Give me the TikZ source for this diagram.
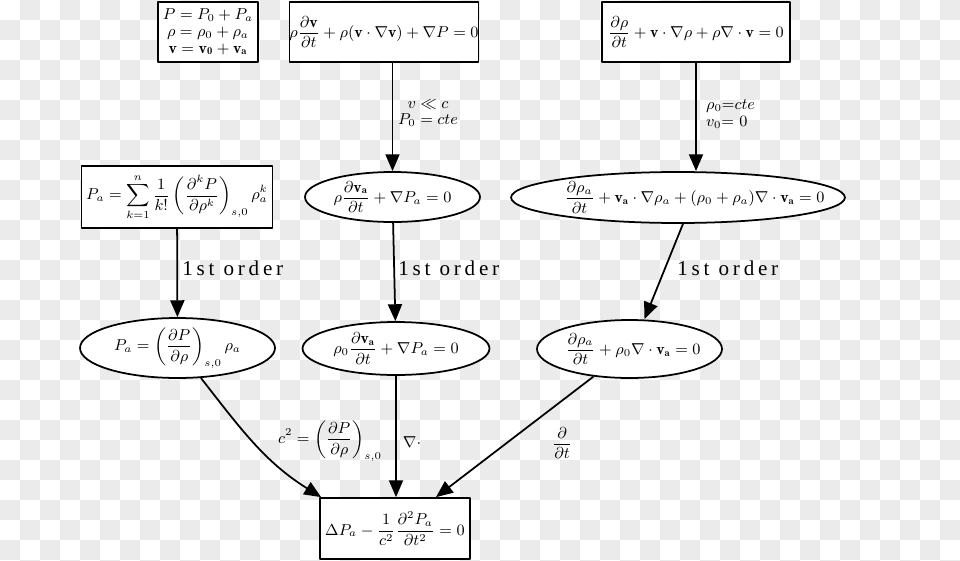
\documentclass[tikz,border=0pt]{standalone}
\usepackage{amsmath}
\usepackage{fontspec}
\newfontfamily\orderfont[LetterSpace=18]{Liberation Serif}
\usetikzlibrary{arrows.meta,shapes.geometric}
\definecolor{checkgray}{HTML}{EBEBEB}
\newcommand{\nowidth}[1]{\makebox[0pt]{$\displaystyle #1$}}
\begin{document}
\begin{tikzpicture}[x=0.02cm, y=-0.02cm, >={Triangle[length=9.6pt,width=8pt]}, line join=round,
  every node/.style={font=\fontsize{9}{10.5}\selectfont},
  eqbox/.style={draw, fill=white, line width=1pt, inner sep=0pt, align=center},
  eqell/.style={draw, ellipse, fill=white, line width=1pt, inner sep=0pt},
  arr/.style={->, line width=1pt},
  order/.style={font=\orderfont\fontsize{12}{14}\selectfont, anchor=west, inner sep=0pt}]
\useasboundingbox (0,0) rectangle (960,561);
% checkered background
\begin{scope}
\clip (0,0) rectangle (960,561);
\foreach \i in {0,...,47}{
  \foreach \j in {0,...,28}{
    \pgfmathtruncatemacro\k{mod(\i+\j,2)}
    \ifnum\k=1 \fill[checkgray] (\i*20,\j*20) rectangle ++(20,20); \fi
  }
}
\end{scope}
% top row
\node[eqbox, minimum width=2cm, minimum height=1.2cm] (defs) at (208,32)
  {$P=P_0+P_a$\\[-1pt] $\rho=\rho_0+\rho_a$\\[-1pt] $\mathbf{v}=\mathbf{v_0}+\mathbf{v_a}$};
\node[eqbox, minimum width=3.76cm, minimum height=1.2cm] (euler) at (384,32)
  {$\displaystyle\rho\frac{\partial\mathbf{v}}{\partial t}+\rho(\mathbf{v}\cdot\nabla\mathbf{v})+\nabla P=0$};
\node[eqbox, minimum width=3.76cm, minimum height=1.2cm] (cont) at (696,32)
  {$\displaystyle\frac{\partial\rho}{\partial t}+\mathbf{v}\cdot\nabla\rho+\rho\nabla\cdot\mathbf{v}=0$};
% middle row
\node[eqbox, minimum width=3.82cm, minimum height=1.24cm] (state) at (177,197)
  {$\displaystyle P_a=\sum_{k=1}^{n}\frac{1}{k!}\left(\frac{\partial^k P}{\partial\rho^k}\right)_{s,0}\rho_a^k$};
\node[eqell, minimum width=3.5cm, minimum height=1cm] (eulerlin) at (392.5,197)
  {\nowidth{\rho\frac{\partial\mathbf{v_a}}{\partial t}+\nabla P_a=0}};
\node[eqell, minimum width=6.68cm, minimum height=1.02cm] (contlin) at (678,197.5)
  {\makebox[0pt]{\hspace{0.66cm}$\displaystyle\frac{\partial\rho_a}{\partial t}+\mathbf{v_a}\cdot\nabla\rho_a+(\rho_0+\rho_a)\nabla\cdot\mathbf{v_a}=0$}};
% first order row
\node[eqell, minimum width=3.9cm, minimum height=1.2cm] (statelin) at (177.5,348)
  {\nowidth{P_a=\left(\frac{\partial P}{\partial\rho}\right)_{s,0}\rho_a}};
\node[eqell, minimum width=3.74cm, minimum height=1.06cm] (eulerord) at (396,348.5)
  {\nowidth{\rho_0\frac{\partial\mathbf{v_a}}{\partial t}+\nabla P_a=0}};
\node[eqell, minimum width=3.7cm, minimum height=1.16cm] (contord) at (629.5,349)
  {\makebox[0pt]{\hspace{0.14cm}$\displaystyle\frac{\partial\rho_a}{\partial t}+\rho_0\nabla\cdot\mathbf{v_a}=0$}};
% wave equation
\node[eqbox, minimum width=3cm, minimum height=1.22cm] (wave) at (395,528.5)
  {$\displaystyle\Delta P_a-\frac{1}{c^2}\frac{\partial^2 P_a}{\partial t^2}=0$};

% connectors
\draw[arr] (euler.south -| eulerlin) -- (eulerlin.north);
\draw[arr] (cont.south) -- (cont.south |- contlin.north);
\draw[arr] (state) -- (statelin);
\draw[arr] (eulerlin) -- (eulerord);
\draw[arr] ([xshift=0.1cm]contlin.south) -- ([xshift=0.3cm]contord.north);
\draw[arr] (statelin.-52) to[out=-52,in=148] ([xshift=0.04cm]wave.north west);
\draw[arr] (eulerord) -- (eulerord |- wave.north);
\draw[arr] (contord) -- (wave);

% labels
\node[align=center] (lowmach) at (428,113) {$v\ll c$\\[-1pt] $P_0=cte$};
\node[align=left, anchor=west] (rest) at (700,114) {$\rho_0$=$cte$\\[-1pt] $v_0$= 0};
\node[order] (ord1) at (182,268) {1st order};
\node[order] (ord2) at (398,268) {1st order};
\node[order] (ord3) at (677,268) {1st order};
\node (sound) at (330,441) {$\displaystyle c^2=\left(\frac{\partial P}{\partial\rho}\right)_{s,0}$};
\node (div) at (412,442) {$\nabla\cdot$};
\node (dt) at (562,443) {$\displaystyle\frac{\partial}{\partial t}$};
\end{tikzpicture}
\end{document}
